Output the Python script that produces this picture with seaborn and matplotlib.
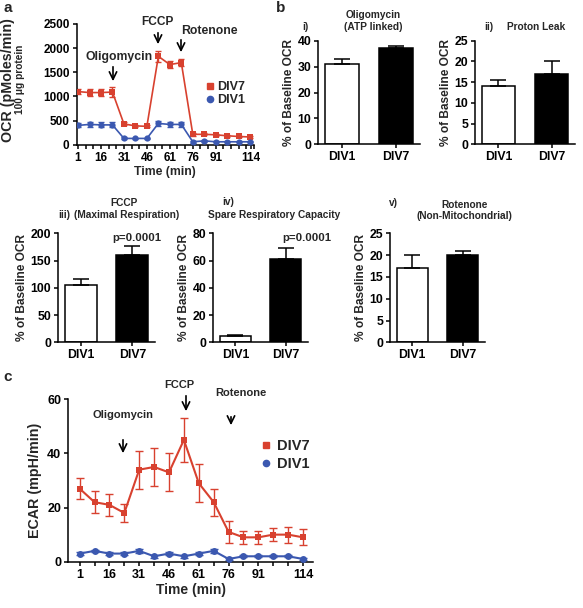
import numpy as np
import pandas as pd
import matplotlib
matplotlib.use("Agg")
import matplotlib.pyplot as plt
import seaborn as sns
from matplotlib.lines import Line2D

# ---------------- data ----------------
times = [1, 8.5, 16, 23.5, 31, 38.5, 46, 53.5, 61, 68.5, 76, 83.5, 91, 98.5, 106, 113.5]
time_labels = [1, 16, 31, 46, 61, 76, 91, 114]

ocr_div7 = [1100, 1080, 1080, 1090, 430, 390, 380, 1830, 1660, 1700, 215, 215, 205, 185, 170, 160]
ocr_div7_err = [60, 70, 80, 100, 30, 20, 20, 110, 70, 80, 30, 20, 20, 20, 20, 20]
ocr_div1 = [400, 420, 410, 410, 130, 130, 130, 440, 420, 420, 60, 80, 60, 60, 60, 60]
ocr_div1_err = [40, 50, 50, 50, 20, 15, 15, 60, 50, 50, 15, 15, 10, 10, 10, 10]

ecar_div7 = [27, 22, 21, 18, 34, 35, 33, 45, 29, 22, 11, 9, 9, 10, 10, 9]
ecar_div7_err = [4, 4, 4, 3.5, 7, 7, 7, 8, 7, 5, 4, 2.5, 2.5, 2.5, 3, 3]
ecar_div1 = [3, 4, 3, 3, 4, 2, 3, 2, 3, 4, 1, 2, 2, 2, 2, 1]
ecar_div1_err = [0.5, 0.5, 0.5, 0.5, 0.7, 0.5, 0.5, 0.5, 0.5, 0.8, 0.5, 0.4, 0.4, 0.4, 0.4, 0.4]

groups = ["DIV1", "DIV7"]
atp_vals, atp_err = [31, 37], [2, 1]
leak_vals, leak_err = [14, 17], [1.5, 3]
max_vals, max_err = [105, 161], [11, 15]
spare_vals, spare_err = [4.4, 61], [1, 8]
nonmito_vals, nonmito_err = [17, 20], [3, 1]

RED = "#d8412f"
BLUE = "#3b58b0"

# ---------------- style ----------------
sns.set_theme(style="ticks")
plt.rcParams["font.family"] = ["Liberation Sans", "DejaVu Sans"]
plt.rcParams["font.weight"] = "bold"
plt.rcParams["axes.labelweight"] = "bold"
plt.rcParams["axes.linewidth"] = 1.1
plt.rcParams["xtick.major.width"] = 1.1
plt.rcParams["ytick.major.width"] = 1.1
plt.rcParams["xtick.minor.width"] = 1.1
plt.rcParams["xtick.major.size"] = 3
plt.rcParams["ytick.major.size"] = 3
plt.rcParams["xtick.minor.size"] = 3
plt.rcParams["xtick.color"] = "black"
plt.rcParams["ytick.color"] = "black"
plt.rcParams["axes.edgecolor"] = "black"

W, H = 583, 608
fig = plt.figure(figsize=(W / 100, H / 100), dpi=100)


def rect(l, t, r, b):
    return [l / W, 1 - b / H, (r - l) / W, (b - t) / H]


def fx(x):
    return x / W


def fy(y):
    return 1 - y / H


def ftext(x, y, s, size, ha="center", va="center", **kw):
    fig.text(fx(x), fy(y), s, fontsize=size, ha=ha, va=va, fontweight="bold", **kw)


def farrow(ax, x, y0, y1):
    ax.annotate("", xy=(fx(x), fy(y1)), xytext=(fx(x), fy(y0)),
                xycoords="figure fraction", textcoords="figure fraction",
                arrowprops=dict(arrowstyle="->,head_length=0.45,head_width=0.22",
                                lw=1.2, color="black"),
                annotation_clip=False)


def time_panel(ax, d7, e7, d1, e1, ms, lw, cap):
    df = pd.DataFrame({
        "time": times * 2,
        "val": d7 + d1,
        "group": ["DIV7"] * len(times) + ["DIV1"] * len(times),
    })
    sns.lineplot(data=df, x="time", y="val", hue="group", style="group",
                 markers={"DIV7": "s", "DIV1": "o"}, dashes=False,
                 palette={"DIV7": RED, "DIV1": BLUE}, markersize=ms,
                 markeredgewidth=0, linewidth=lw, legend=False, ax=ax, zorder=3)
    ax.errorbar(times, d7, yerr=e7, fmt="none", ecolor=RED, elinewidth=1.0,
                capsize=cap, capthick=1.0, zorder=2)
    ax.errorbar(times, d1, yerr=e1, fmt="none", ecolor=BLUE, elinewidth=1.0,
                capsize=cap, capthick=1.0, zorder=2)
    sns.despine(ax=ax)


def bar_panel(ax, vals, errs, ymax, yticks):
    df = pd.DataFrame({"group": groups, "val": vals})
    sns.barplot(data=df, x="group", y="val", hue="group",
                palette={"DIV1": "white", "DIV7": "black"}, edgecolor="black",
                linewidth=1.1, width=0.62, errorbar=None, legend=False, ax=ax)
    ax.errorbar([0, 1], vals, yerr=[[0, 0], errs], fmt="none", ecolor="black",
                elinewidth=1.1, capsize=5.5, capthick=1.1, zorder=1)
    ax.set_xlim(-0.44, 1.44)
    ax.set_ylim(0, ymax)
    ax.set_yticks(yticks)
    ax.set_xlabel("")
    ax.set_ylabel("% of Baseline OCR", fontsize=8.6, labelpad=2)
    ax.tick_params(axis="both", labelsize=8.8, pad=2)
    sns.despine(ax=ax)


# ---------------- panel a ----------------
axa = fig.add_axes(rect(76.5, 24, 254, 144.7))
time_panel(axa, ocr_div7, ocr_div7_err, ocr_div1, ocr_div1_err, ms=4.5, lw=1.2, cap=2)
axa.set_xlim(0, 116)
axa.set_xticks(time_labels)
axa.set_xticklabels([str(t) for t in time_labels])
axa.set_xticks([t for t in range(1, 117, 5) if t not in time_labels], minor=True)
axa.set_ylim(0, 2500)
axa.set_yticks([0, 500, 1000, 1500, 2000, 2500])
axa.tick_params(axis="both", labelsize=8.5, pad=2)
axa.set_xlabel("Time (min)", fontsize=8.8, labelpad=2)
axa.set_ylabel("")
ftext(8, 80, "OCR (pMoles/min)", 10.3, rotation=90)
ftext(20, 79, "100 \u03bcg protein", 7.3, rotation=90)
ftext(119, 57, "Oligomycin", 8.8)
farrow(axa, 113, 64, 84)
ftext(157, 22, "FCCP", 8.6)
farrow(axa, 158, 30, 47)
ftext(209, 31, "Rotenone", 8.8)
farrow(axa, 181, 37, 55)
ha = [Line2D([], [], marker="s", color=RED, ls="none", markersize=4.5),
      Line2D([], [], marker="o", color=BLUE, ls="none", markersize=4.5)]
axa.legend(ha, ["DIV7", "DIV1"], loc="upper left", bbox_to_anchor=(fx(206), fy(81)),
           bbox_transform=fig.transFigure, frameon=False, fontsize=9,
           handlelength=0.6, handletextpad=0.3, labelspacing=0.1,
           borderpad=0, borderaxespad=0)
ftext(3, 8, "a", 11, ha="left")

# ---------------- panel b ----------------
ax1 = fig.add_axes(rect(318.3, 40.7, 420, 144.3))
bar_panel(ax1, atp_vals, atp_err, 40, [0, 10, 20, 30, 40])
ftext(373, 15, "Oligomycin", 7.3)
ftext(373, 27, "(ATP linked)", 7.3)
ftext(302, 27, "i)", 7.3, ha="left")

ax2 = fig.add_axes(rect(475, 40.7, 575, 144.3))
bar_panel(ax2, leak_vals, leak_err, 25, [0, 5, 10, 15, 20, 25])
ftext(484, 27, "ii)", 7.3, ha="left")
ftext(536, 27, "Proton Leak", 7.3)
ftext(276, 8, "b", 11, ha="left")

ax3 = fig.add_axes(rect(58.3, 233.3, 155, 342.3))
bar_panel(ax3, max_vals, max_err, 200, [0, 50, 100, 150, 200])
ftext(124, 203, "FCCP", 7.3)
ftext(58, 215, "iii)", 7.3, ha="left")
ftext(127, 215, "(Maximal Respiration)", 7.3)
ftext(137, 238, "p=0.0001", 8.2)

ax4 = fig.add_axes(rect(213.3, 233.3, 308, 342.3))
bar_panel(ax4, spare_vals, spare_err, 80, [0, 20, 40, 60, 80])
ftext(222, 202, "iv)", 7.3, ha="left")
ftext(274, 215, "Spare Respiratory Capacity", 7.3)
ftext(307, 238, "p=0.0001", 8.2)

ax5 = fig.add_axes(rect(390, 233.3, 485, 342.3))
bar_panel(ax5, nonmito_vals, nonmito_err, 25, [0, 5, 10, 15, 20, 25])
ftext(389, 203, "v)", 7.3, ha="left")
ftext(465, 205, "Rotenone", 7.3)
ftext(464, 216, "(Non-Mitochondrial)", 7.3)

# ---------------- panel c ----------------
axc = fig.add_axes(rect(68.3, 399.3, 313, 561.7))
time_panel(axc, ecar_div7, ecar_div7_err, ecar_div1, ecar_div1_err, ms=5, lw=1.5, cap=3)
axc.set_xlim(-4.7, 118.5)
axc.set_xticks(times)
clabels = [""] * len(times)
for i, t in zip([0, 2, 4, 6, 8, 10, 12, 15], time_labels):
    clabels[i] = str(t)
axc.set_xticklabels(clabels)
axc.set_ylim(0, 60)
axc.set_yticks([0, 20, 40, 60])
axc.tick_params(axis="both", labelsize=9, pad=2)
axc.set_xlabel("Time (min)", fontsize=10, labelpad=2)
axc.set_ylabel("ECAR (mpH/min)", fontsize=10.3, labelpad=4)
ftext(123, 415, "Oligomycin", 8)
farrow(axc, 123, 437, 456)
ftext(179, 385, "FCCP", 8)
farrow(axc, 186, 393, 414)
ftext(241, 393, "Rotenone", 8)
farrow(axc, 231, 414, 428)
hc = [Line2D([], [], marker="s", color=RED, ls="none", markersize=5),
      Line2D([], [], marker="o", color=BLUE, ls="none", markersize=4.5)]
axc.legend(hc, ["DIV7", "DIV1"], loc="upper left", bbox_to_anchor=(fx(262), fy(439)),
           bbox_transform=fig.transFigure, frameon=False, fontsize=10.5,
           handlelength=0.6, handletextpad=0.4, labelspacing=0.3,
           borderpad=0, borderaxespad=0)
ftext(3, 377, "c", 11, ha="left")

fig.savefig("out.png", dpi=100)
